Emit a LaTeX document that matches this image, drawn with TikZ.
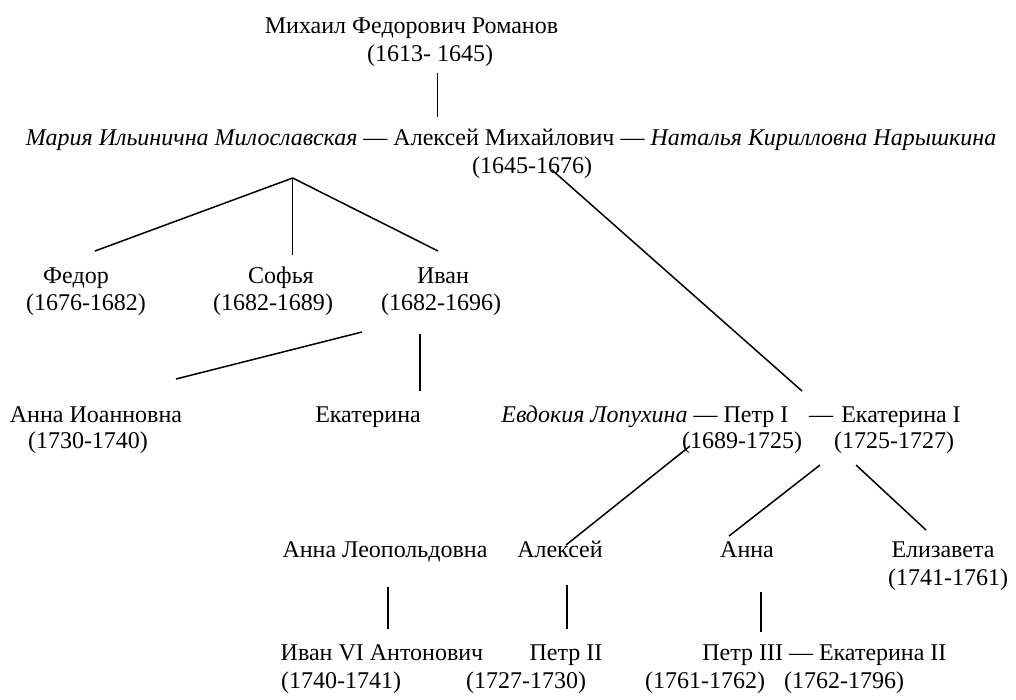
\documentclass[tikz,border=0pt]{standalone}
\usepackage{fontspec}
\setmainfont{Liberation Serif}
\begin{document}
\begin{tikzpicture}[x=1pt,y=-1pt,
  every node/.style={inner sep=0pt,outer sep=0pt,font=\fontsize{24}{28}\selectfont},
  nm/.style={anchor=base},
  link/.style={draw=black,line width=1.5pt}]
\useasboundingbox (0,0) rectangle (1016,699);
% row 1
\node[nm] (mikhail) at (411.5,33) {Михаил Федорович Романов};
\node[nm] (mikhailY) at (430,61) {(1613- 1645)};
% row 2
\node[nm] (alexei) at (504,145) {Алексей Михайлович};
\node[anchor=base east] (maria) at ([xshift=-6pt]alexei.base west) {\textit{Мария Ильинична Милославская} —};
\node[anchor=base west] (natalya) at ([xshift=6pt]alexei.base east) {— \textit{Наталья Кирилловна Нарышкина}};
\node[nm] (alexeiY) at (532,173) {(1645-1676)};
% row 3
\node[nm] (fedor) at (76,283) {Федор};
\node[nm] (fedorY) at (86,310) {(1676-1682)};
\node[nm] (sofya) at (281,283) {Софья};
\node[nm] (sofyaY) at (273,310) {(1682-1689)};
\node[nm] (ivan) at (443,283) {Иван};
\node[nm] (ivanY) at (441,310) {(1682-1696)};
% row 4
\node[nm] (annaI) at (96,422) {Анна Иоанновна};
\node[nm] (annaIY) at (88,448) {(1730-1740)};
\node[nm] (ekaterina) at (368,422) {Екатерина};
\node[nm] (petr1) at (756,422) {Петр I};
\node[anchor=base east] (evdokia) at ([xshift=-6pt]petr1.base west) {\textit{Евдокия Лопухина} —};
\node[nm] (dash1) at (821,422) {—};
\node[nm] (ekat1) at (901,422) {Екатерина I};
\node[nm] (petr1Y) at (742,448) {(1689-1725)};
\node[nm] (ekat1Y) at (894,448) {(1725-1727)};
% row 5
\node[nm] (annaL) at (385,557) {Анна Леопольдовна};
\node[nm] (alexeiP) at (560,557) {Алексей};
\node[nm] (anna) at (747,557) {Анна};
\node[nm] (elizaveta) at (943,557) {Елизавета};
\node[nm] (elizY) at (948,585) {(1741-1761)};
% row 6
\node[nm] (ivan6) at (382,660) {Иван VI Антонович};
\node[nm] (ivan6Y) at (341,688) {(1740-1741)};
\node[nm] (petr2) at (566,660) {Петр II};
\node[nm] (petr2Y) at (526,688) {(1727-1730)};
\node[nm] (dash2) at (801,660) {—};
\node[anchor=base east] (petr3) at ([xshift=-6pt]dash2.base west) {Петр III};
\node[anchor=base west] (ekat2) at ([xshift=6pt]dash2.base east) {Екатерина II};
\node[nm] (petr3Y) at (705,688) {(1761-1762)};
\node[nm] (ekat2Y) at (844,688) {(1762-1796)};
% connector end points
\coordinate (m1) at (437.7,73);  \coordinate (m2) at (437.7,117);
\coordinate (apex) at (292.7,178);
\coordinate (f1) at (95,251); \coordinate (s1) at (292.7,255); \coordinate (i1) at (438,251);
\coordinate (i2) at (362,332); \coordinate (aI1) at (176,379);
\coordinate (i3) at (420,334); \coordinate (e1) at (420,391);
\coordinate (a1) at (552,170); \coordinate (p1) at (802,391);
\coordinate (p2) at (690,446); \coordinate (ap1) at (566,545);
\coordinate (k1) at (820,465); \coordinate (an1) at (729,536);
\coordinate (k2) at (856,465); \coordinate (el1) at (926,530);
\coordinate (l1) at (388,587); \coordinate (l2) at (388,629);
\coordinate (x1) at (567,585); \coordinate (x2) at (567,629);
\coordinate (y1) at (761,592); \coordinate (y2) at (761,632);
% connectors
\draw[link] (m1) -- (m2);
\draw[link] (apex) -- (f1);
\draw[link] (apex) -- (s1);
\draw[link] (apex) -- (i1);
\draw[link] (i2) -- (aI1);
\draw[link] (i3) -- (e1);
\draw[link] (a1) -- (p1);
\draw[link] (p2) -- (ap1);
\draw[link] (k1) -- (an1);
\draw[link] (k2) -- (el1);
\draw[link] (l1) -- (l2);
\draw[link] (x1) -- (x2);
\draw[link] (y1) -- (y2);
\end{tikzpicture}
\end{document}
